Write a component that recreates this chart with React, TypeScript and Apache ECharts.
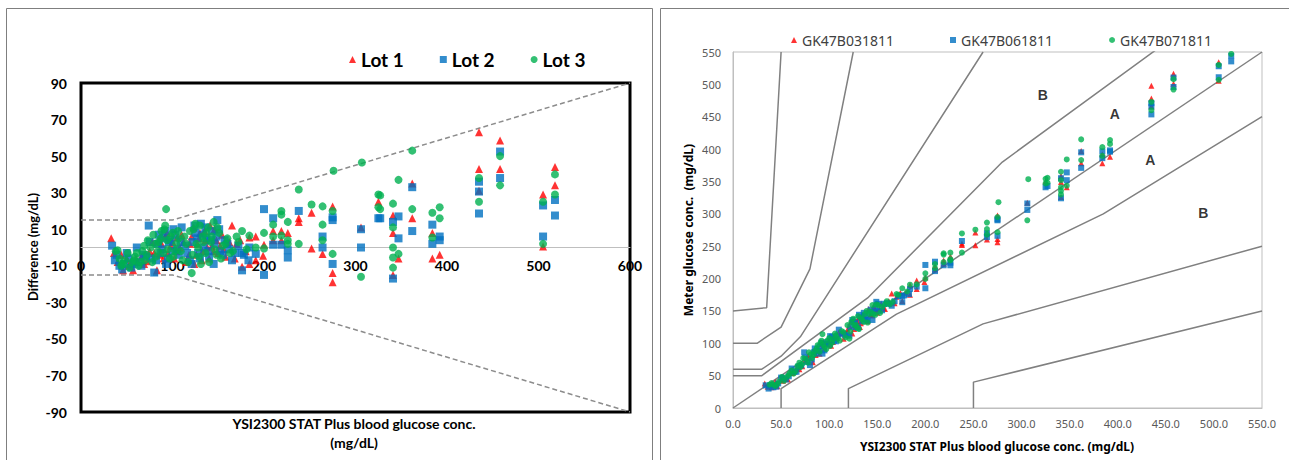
import React, { useEffect, useRef } from "react";
import * as echarts from "echarts";

// [reference glucose, difference (meter - reference)]
const lot1Points: number[][] = [
  [33, 5], [36, -3], [40, -8], [44, -4], [46, -12.5], [50, -6], [52, -10], [54, -9], [57, -12.5], [60, -6],
  [62, -8], [66, -5], [69, -9], [72, -7.5], [75, -2], [78, 3], [80, -3], [83, -12.5], [85, 4], [86, -4],
  [88, 2], [90, -6], [92, 6], [94, 8], [95, -3], [98, 1], [100, 3], [102, -6], [104, -2], [105, 5.5],
  [108, 0], [110, 7], [112, 3], [115, -8], [118, -4], [119, 2], [121, 6], [123, 11], [124, -9], [126, -4],
  [127, 2], [129, 5], [130, 8], [132, -7], [133, -2], [135, 9], [136, 4], [138, 0], [140, -6], [141, 12],
  [143, 1], [145, -2], [146, 10], [148, 4], [150, -3], [152, 1], [154, 7], [156, -1], [158, -5], [162, 3],
  [165, 12], [168, -6], [170, 2], [174, 4], [176, -10.5], [180, -2], [184, 5.5], [184, -9], [191, 6], [191, -7],
  [199, -4.5], [200, 1.5], [210, 9], [210, 4], [219, 9], [219, 4], [226, 8], [238, 16], [238, 14], [252, 19],
  [252, -0.5], [264, -3.5], [275, 22.5], [275, -14], [275, -19], [306, 11], [325, 25], [341, 17.5], [341, 8], [341, -15],
  [347, -6], [362, 35], [362, 16], [384, 8], [384, -6], [392, -4], [435, 63], [435, 43], [435, 31], [458, 58.5],
  [458, 43], [505, 29], [505, 0.5], [518, 44], [518, 34],
];
const lot2Points: number[][] = [
  [34, 1], [37, -7], [39, -4], [42, -10], [45, -12], [47, -9], [50, -3], [52, -6], [55, -11], [58, -9],
  [61, 0], [64, -8], [66, -10], [68, -4], [71, -5], [74, 12], [75, 3], [77, -6], [80, -13.7], [82, -7],
  [84, 2], [85, 7], [87, -3], [89, -1], [90, 5], [92, 9], [93, -9], [95, -6], [96, 3], [98, 4],
  [100, -2], [101, 10], [103, 7], [105, -1], [107, -4], [109, 3], [110, 11], [114, 1], [116, -3], [119, -7],
  [121, -9], [122, 3], [124, 12], [125, 8], [127, 5], [128, -3], [130, -6], [131, 13], [133, 7], [134, 0],
  [136, 11], [137, 5], [139, -2], [140, -5], [142, 4], [143, 9], [145, -9], [146, 2], [148, 6], [149, 15],
  [151, 10], [152, -2], [155, -4], [157, 4], [160, 2], [162, -1], [165, -7], [168, -3], [172, 1], [176, -3],
  [176, -12.5], [178, -4], [183, -7], [184, 0], [191, -3.5], [200, 21], [200, -15], [210, 16], [210, 1.5], [219, 1.5],
  [226, -1.5], [226, -5.5], [238, 20], [264, 6], [264, 0], [275, 16.5], [275, 15], [275, -9], [306, 10], [306, 0],
  [325, 16], [327, 16], [341, 14], [341, -17], [347, 17], [347, 5], [362, 33], [362, 9], [384, 12.5], [384, 2],
  [392, 6], [392, 4], [435, 36], [435, 30.6], [435, 18.6], [458, 52.5], [458, 38], [505, 23], [505, 6], [518, 26],
  [518, 17.5],
];
const lot3Points: number[][] = [
  [38, -2], [40, -1.5], [42, -6], [44, -10], [46, -9], [48, -7], [51, -3], [53, -11], [56, -8], [58, -7],
  [59, -5], [61, -3], [63, -10], [65, -8], [67, -2], [69, 1], [70, -7], [72, -4], [73, 4], [76, 0],
  [78, -8], [79, 7], [81, 2], [82, -5], [84, -2], [85, 3], [87, 5], [88, 9], [90, -3], [91, 10],
  [92, 12], [93, 21], [94, 4], [95, -1], [97, -6], [98, 6], [100, 8], [101, -5], [103, -2], [104, 2],
  [106, 9], [107, 5], [109, -2], [111, -7], [113, 6], [115, 2], [117, -8], [119, 9], [121, -14], [122, -4],
  [123, 10], [125, 13], [126, 2], [128, 0], [129, -5], [130, 12], [131, -9], [133, 6], [134, 3], [136, -3],
  [137, 8], [139, 11], [140, -8], [142, 3], [143, 6], [145, 14], [146, -1], [148, -4], [149, 11], [151, 8],
  [153, -6], [155, 1], [158, 2], [160, 5], [163, -3], [166, -2], [170, 6], [172, 3], [176, 9], [181, -1],
  [184, 6.5], [191, 0], [200, 8], [200, -0.5], [210, 12.5], [210, 6], [219, 20], [219, 18], [219, 6.5], [226, 14],
  [226, 4], [226, 2], [238, 31.7], [238, 2], [252, 23.5], [264, 22.5], [264, 12.5], [264, 4], [276, 42], [275, 20],
  [275, -3.5], [306, -16], [307, 46.5], [325, 29], [325, 22], [327, 28.5], [327, 21], [341, 24], [341, 11], [341, 0],
  [341, -5.5], [341, -11], [347, 37], [347, -3.5], [362, 53], [362, 21], [384, 19], [384, 5.5], [392, 22], [392, 16],
  [435, 38], [435, 25], [458, 50], [458, 34], [505, 25], [505, 2], [518, 40], [518, 29],
];

const lotNames = ["Lot 1", "Lot 2", "Lot 3"];
const lotCodes = ["GK47B031811", "GK47B061811", "GK47B071811"];

const diffYTicks = [-90, -70, -50, -30, -10, 10, 30, 50, 70, 90];
const upperLimit = [[0, 15], [100, 15], [600, 90]];
const lowerLimit = [[0, -15], [100, -15], [600, -90]];

// Parkes error grid (type 1) zone boundaries
const identityLine = [[0, 0], [550, 550]];
const zoneAUpper = [[0, 50], [30, 50], [140, 170], [280, 380], [5000, 5500]];
const zoneALower = [[50, 0], [50, 30], [170, 145], [385, 300], [550, 450]];
const zoneBUpper = [[0, 60], [30, 60], [50, 80], [70, 110], [260, 550]];
const zoneBLower = [[120, 0], [120, 30], [260, 130], [550, 250]];
const zoneCUpper = [[0, 100], [25, 100], [50, 125], [80, 215], [125, 550]];
const zoneCLower = [[250, 0], [250, 40], [550, 150]];
const zoneDUpper = [[0, 150], [35, 155], [50, 550]];
const zoneLabels = [
  { name: "B", value: [322, 484] },
  { name: "A", value: [397, 454] },
  { name: "A", value: [434, 383] },
  { name: "B", value: [489, 301] },
];

const RED = "#FF0000";
const BLUE = "#0070C0";
const GREEN = "#00B050";

export default function App() {
  const ref = useRef<HTMLDivElement>(null);
  useEffect(() => {
    if (!ref.current) return;
    const chart = echarts.init(ref.current, undefined, { renderer: "svg" });
    const lots = [lot1Points, lot2Points, lot3Points];
    const colors = [RED, BLUE, GREEN];
    const symbols = ["triangle", "rect", "circle"];

    const gridLine = (data: number[][]) => ({
      type: "line",
      xAxisIndex: 1,
      yAxisIndex: 1,
      data,
      showSymbol: false,
      symbol: "none",
      silent: true,
      clip: true,
      z: 1,
      lineStyle: { color: "#808080", width: 1.5 },
    });

    const series: any[] = [];
    series.push({
      type: "line", xAxisIndex: 0, yAxisIndex: 0, data: upperLimit, symbol: "none", silent: true, z: 1,
      lineStyle: { color: "#8C8C8C", width: 1.5, type: [5, 3] },
    });
    series.push({
      type: "line", xAxisIndex: 0, yAxisIndex: 0, data: lowerLimit, symbol: "none", silent: true, z: 1,
      lineStyle: { color: "#8C8C8C", width: 1.5, type: [5, 3] },
    });
    lots.forEach((pts, i) => {
      series.push({
        name: lotNames[i],
        type: "scatter",
        xAxisIndex: 0,
        yAxisIndex: 0,
        data: pts,
        symbol: symbols[i],
        symbolSize: 8,
        itemStyle: { color: colors[i] },
        z: 3 + i,
      });
    });
    [identityLine, zoneAUpper, zoneALower, zoneBUpper, zoneBLower, zoneCUpper, zoneCLower, zoneDUpper].forEach((d) =>
      series.push(gridLine(d))
    );
    lots.forEach((pts, i) => {
      series.push({
        name: lotCodes[i],
        type: "scatter",
        xAxisIndex: 1,
        yAxisIndex: 1,
        data: pts.map(([x, d]) => [x, x + d]),
        symbol: symbols[i],
        symbolSize: 6,
        itemStyle: { color: colors[i] },
        clip: true,
        z: 3 + i,
      });
    });
    series.push({
      type: "scatter",
      xAxisIndex: 1,
      yAxisIndex: 1,
      data: zoneLabels,
      symbolSize: 1,
      itemStyle: { color: "transparent" },
      silent: true,
      label: {
        show: true,
        position: "inside",
        formatter: "{b}",
        color: "#000",
        fontWeight: "bold",
        fontSize: 14,
        fontFamily: "Liberation Sans",
      },
    });

    chart.setOption({
      animation: false,
      backgroundColor: "#fff",
      textStyle: { fontFamily: "Lato" },
      grid: [
        { left: 81, top: 83, width: 549, height: 329, show: true, borderColor: "#000", borderWidth: 3, backgroundColor: "transparent" },
        { left: 733, top: 52, width: 529, height: 356, show: true, borderColor: "#BFBFBF", borderWidth: 1, backgroundColor: "transparent" },
      ],
      legend: [
        {
          data: lotNames,
          left: 344,
          top: 45,
          itemWidth: 7,
          itemHeight: 7,
          itemGap: 36,
          selectedMode: false,
          textStyle: { fontSize: 19, fontWeight: "bold", fontFamily: "Lato", color: "#000" },
        },
        {
          data: lotCodes,
          left: 786,
          top: 28,
          itemWidth: 6,
          itemHeight: 6,
          itemGap: 56,
          selectedMode: false,
          textStyle: { fontSize: 14, fontFamily: "Noto Sans", color: "#404040" },
        },
      ],
      xAxis: [
        {
          gridIndex: 0, type: "value", min: 0, max: 600, interval: 100,
          position: "bottom",
          offset: -164.5,
          axisLine: { onZero: false, lineStyle: { color: "#BFBFBF", width: 1 } },
          axisTick: { show: false },
          splitLine: { show: false },
          axisLabel: { color: "#000", fontWeight: "bold", fontSize: 14, fontFamily: "Lato", margin: 11 },
        },
        {
          gridIndex: 1, type: "value", min: 0, max: 550, interval: 50,
          axisLine: { lineStyle: { color: "#BFBFBF", width: 1 } },
          axisTick: { show: false },
          splitLine: { show: false },
          axisLabel: {
            color: "#595959", fontSize: 11, fontFamily: "Noto Sans", margin: 10,
            formatter: (v: number) => v.toFixed(1),
          },
        },
      ],
      yAxis: [
        {
          gridIndex: 0, type: "value", min: -90, max: 90,
          axisLine: { show: false },
          axisTick: { show: false },
          splitLine: { show: false },
          axisLabel: {
            customValues: diffYTicks,
            color: "#000", fontWeight: "bold", fontSize: 14, fontFamily: "Lato", margin: 14,
          },
        },
        {
          gridIndex: 1, type: "value", min: 0, max: 550, interval: 50,
          axisLine: { lineStyle: { color: "#BFBFBF", width: 1 } },
          axisTick: { show: false },
          splitLine: { show: false },
          axisLabel: { color: "#595959", fontSize: 11, fontFamily: "Noto Sans", margin: 12 },
        },
      ],
      graphic: [
        { type: "rect", shape: { x: 6.5, y: 8.5, width: 646, height: 480 }, style: { fill: "none", stroke: "#7F7F7F", lineWidth: 1 }, silent: true },
        { type: "rect", shape: { x: 660.5, y: 8.5, width: 660, height: 480 }, style: { fill: "none", stroke: "#7F7F7F", lineWidth: 1 }, silent: true },
        {
          type: "text", x: 33, y: 247, rotation: Math.PI / 2,
          style: { text: "Difference (mg/dL)", font: "bold 13px Lato", fill: "#000", textAlign: "center", textVerticalAlign: "middle" },
        },
        {
          type: "text", x: 354, y: 423,
          style: { text: "YSI2300 STAT Plus blood glucose conc.", font: "bold 14px Lato", fill: "#000", textAlign: "center", textVerticalAlign: "middle" },
        },
        {
          type: "text", x: 354, y: 442,
          style: { text: "(mg/dL)", font: "bold 14px Lato", fill: "#000", textAlign: "center", textVerticalAlign: "middle" },
        },
        {
          type: "text", x: 688, y: 230, rotation: Math.PI / 2,
          style: { text: "Meter glucose conc.  (mg/dL)", font: "bold 12px 'Noto Sans'", fill: "#000", textAlign: "center", textVerticalAlign: "middle" },
        },
        {
          type: "text", x: 997, y: 446,
          style: { text: "YSI2300 STAT Plus blood glucose conc. (mg/dL)", font: "bold 12px 'Noto Sans'", fill: "#000", textAlign: "center", textVerticalAlign: "middle" },
        },
      ],
      series,
    });
    return () => chart.dispose();
  }, []);
  return (
    <div
      ref={ref}
      style={{ position: "fixed", left: 0, top: 0, width: 1289, height: 460, background: "#fff" }}
    />
  );
}
